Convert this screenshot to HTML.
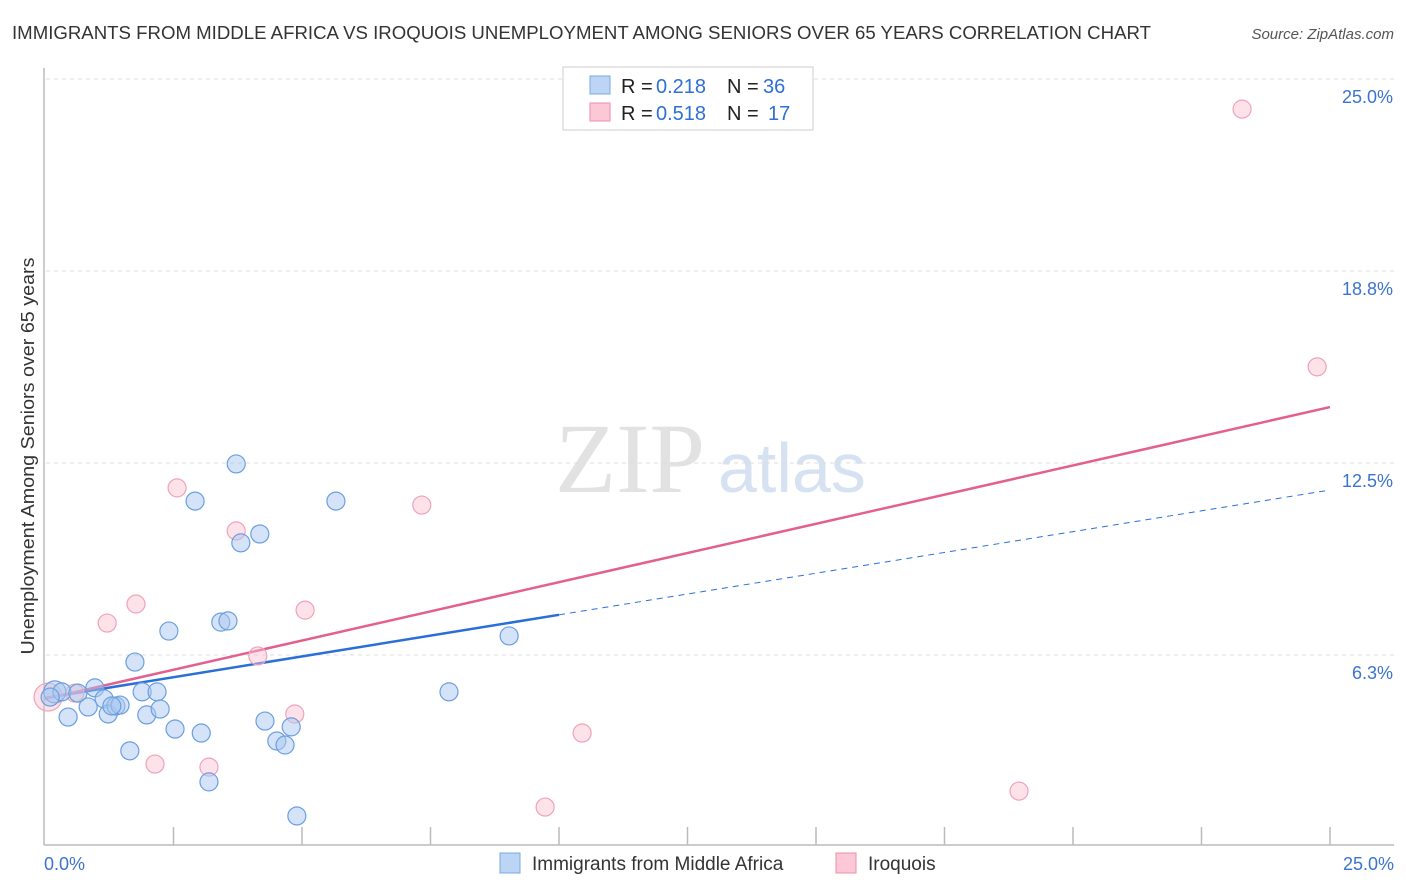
<!DOCTYPE html>
<html><head><meta charset="utf-8"><style>
body{margin:0;background:#fff;font-family:"Liberation Sans",sans-serif;}
svg{display:block}
</style></head><body>
<svg id="chart" width="1406" height="892">
<text x="12" y="39" font-size="18" fill="#333" textLength="1139" lengthAdjust="spacingAndGlyphs">IMMIGRANTS FROM MIDDLE AFRICA VS IROQUOIS UNEMPLOYMENT AMONG SENIORS OVER 65 YEARS CORRELATION CHART</text>
<text x="1394" y="39" font-size="15" fill="#555" font-style="italic" text-anchor="end">Source: ZipAtlas.com</text>
<text x="555" y="492" font-size="100" fill="#e2e2e2" font-family="Liberation Serif,serif">ZIP</text>
<text x="718" y="492" font-size="70" fill="#d6e2f2">atlas</text>
<text transform="translate(34,456) rotate(-90)" font-size="18" fill="#333" text-anchor="middle" textLength="397" lengthAdjust="spacingAndGlyphs">Unemployment Among Seniors over 65 years</text>
<g id="grid"></g><g id="lines"></g><g id="pts"></g>
<g>
<rect x="563" y="67" width="250" height="63" fill="#fff" stroke="#ccc"/>
<rect x="590" y="76" width="20" height="18" fill="#bcd5f5" stroke="#7aa7e4"/>
<text x="621" y="93" font-size="20" fill="#222">R =</text>
<text x="656" y="93" font-size="20" fill="#2f6fd6">0.218</text>
<text x="727" y="93" font-size="20" fill="#222">N =</text>
<text x="763" y="93" font-size="20" fill="#2f6fd6">36</text>
<rect x="590" y="103" width="20" height="18" fill="#fcc7d6" stroke="#ec8ea9"/>
<text x="621" y="120" font-size="20" fill="#222">R =</text>
<text x="656" y="120" font-size="20" fill="#2f6fd6">0.518</text>
<text x="727" y="120" font-size="20" fill="#222">N =</text>
<text x="768" y="120" font-size="20" fill="#2f6fd6">17</text>
</g>
<g>
<rect x="500" y="853" width="20" height="20" fill="#bcd5f5" stroke="#7aa7e4"/>
<text x="532" y="870" font-size="19" fill="#333">Immigrants from Middle Africa</text>
<rect x="836" y="853" width="20" height="20" fill="#fcc7d6" stroke="#ec8ea9"/>
<text x="868" y="870" font-size="19" fill="#333">Iroquois</text>
</g>
</svg>
<script>
const yTicks=[6.25,12.5,18.75,25];
const yTickLabels=["6.3%","12.5%","18.8%","25.0%"];
const xTickLabels=["0.0%","25.0%"];
const blueX=[0.19,0.33,0.64,0.97,0.84,0.45,1.15,1.23,1.38,1.46,1.75,1.65,1.89,1.98,2.18,2.24,2.41,2.53,2.92,3.04,3.19,3.42,3.56,3.72,3.81,4.18,4.28,4.51,4.67,4.79,4.90,5.66,7.86,9.03,0.10,1.30];
const blueY=[5.05,5.05,5.01,5.18,4.56,4.23,4.82,4.33,4.59,4.62,6.02,3.13,5.05,4.30,5.05,4.49,7.03,3.84,11.26,3.71,2.12,7.32,7.36,12.47,9.90,10.19,4.10,3.45,3.32,3.91,1.01,11.26,5.05,6.87,4.88,4.59];
const pinkX=[0.06,1.21,1.77,2.14,2.57,3.19,3.72,4.14,4.86,5.06,7.33,9.73,10.45,18.95,23.29,24.75,0.58];
const pinkY=[4.88,7.29,7.91,2.70,11.69,2.60,10.29,6.22,4.33,7.71,11.13,1.30,3.71,1.82,24.02,15.63,5.01];
const blueLine=[4.85,11.62]; const blueSolidEnd=10;
const pinkLine=[4.82,14.32];
const X=v=>45+v*51.4, Y=v=>847-v*30.72;
const NS="http://www.w3.org/2000/svg";
function mk(tag,attrs,parent){const e=document.createElementNS(NS,tag);for(const k in attrs)e.setAttribute(k,attrs[k]);document.getElementById(parent).appendChild(e);return e;}
let a=mk('line',{x1:44,y1:68,x2:44,y2:845,stroke:'#bbb','stroke-width':1.5},'grid');


a=mk('line',{x1:44,y1:845,x2:1394,y2:845,stroke:'#bbb','stroke-width':1.5},'grid');


yTicks.forEach((t,i)=>{
 const g=mk('line',{x1:46,y1:Y(t),x2:1394,y2:Y(t),stroke:'#ddd','stroke-dasharray':'4,4'},'grid');
 
 
 const tx=mk('text',{x:1393,y:Y(t)+24,'font-size':18,fill:'#3b73d0','text-anchor':'end'},'grid');
 tx.textContent=yTickLabels[i];
 
 
});
for(let i=1;i<=10;i++){const v=i*2.5;const t=mk('line',{x1:X(v),y1:827,x2:X(v),y2:845,stroke:'#bbb','stroke-width':1.5},'grid');
 
 }
[[0,44,'start'],[1,1394,'end']].forEach(([i,x,an])=>{const t=mk('text',{x:x,y:870,'font-size':18,fill:'#3b73d0','text-anchor':an},'grid');t.textContent=xTickLabels[i];
 
 });
const yb=v=>blueLine[0]+(blueLine[1]-blueLine[0])*v/25;
let l=mk('line',{x1:X(0),y1:Y(yb(0)),x2:X(blueSolidEnd),y2:Y(yb(blueSolidEnd)),stroke:'#2a6fd8','stroke-width':2.5},'lines');


l=mk('line',{x1:X(blueSolidEnd),y1:Y(yb(blueSolidEnd)),x2:X(25),y2:Y(yb(25)),stroke:'#2a6fd8','stroke-width':1,'stroke-dasharray':'6,5'},'lines');


l=mk('line',{x1:X(0),y1:Y(pinkLine[0]),x2:X(25),y2:Y(pinkLine[1]),stroke:'#e4608c','stroke-width':2.5},'lines');


pinkX.forEach((x,i)=>{const c=mk('circle',{cx:X(x),cy:Y(pinkY[i]),r:i==0?14:9,fill:'rgba(250,190,208,0.45)',stroke:'#eea3ba','stroke-width':1.2},'pts');
 
 });
blueX.forEach((x,i)=>{const c=mk('circle',{cx:X(x),cy:Y(blueY[i]),r:i==0?11:9,fill:'rgba(170,200,240,0.5)',stroke:'#6b9fe0','stroke-width':1.2},'pts');
 
 });
</script>
</body></html>
